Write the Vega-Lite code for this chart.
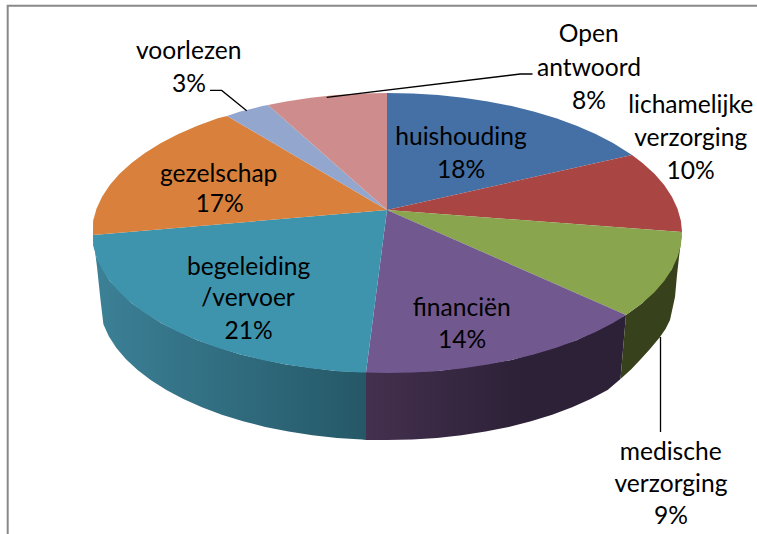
{"$schema":"https://vega.github.io/schema/vega-lite/v6.json","width":757,"height":534,"padding":0,"autosize":"none","background":"white","view":{"stroke":null},
"datasets":{
"tops":[
{"s":"huishouding","i":0,"x":387,"y":210},{"s":"huishouding","i":1,"x":387,"y":93},{"s":"huishouding","i":2,"x":412.7,"y":93.5},{"s":"huishouding","i":3,"x":438.2,"y":95.1},{"s":"huishouding","i":4,"x":463.3,"y":97.8},{"s":"huishouding","i":5,"x":487.9,"y":101.4},{"s":"huishouding","i":6,"x":511.7,"y":106.1},{"s":"huishouding","i":7,"x":534.5,"y":111.8},{"s":"huishouding","i":8,"x":556.2,"y":118.3},{"s":"huishouding","i":9,"x":576.6,"y":125.8},{"s":"huishouding","i":10,"x":595.6,"y":134},{"s":"huishouding","i":11,"x":613,"y":143},{"s":"huishouding","i":12,"x":632,"y":155},
{"s":"lichamelijke verzorging","i":0,"x":387,"y":210},{"s":"lichamelijke verzorging","i":1,"x":632,"y":155},{"s":"lichamelijke verzorging","i":2,"x":642.5,"y":163},{"s":"lichamelijke verzorging","i":3,"x":654.4,"y":173.8},{"s":"lichamelijke verzorging","i":4,"x":664.2,"y":185.1},{"s":"lichamelijke verzorging","i":5,"x":671.9,"y":196.8},{"s":"lichamelijke verzorging","i":6,"x":677.5,"y":208.7},{"s":"lichamelijke verzorging","i":7,"x":680.9,"y":220.8},{"s":"lichamelijke verzorging","i":8,"x":682,"y":232},
{"s":"medische verzorging","i":0,"x":387,"y":210},{"s":"medische verzorging","i":1,"x":682,"y":232},{"s":"medische verzorging","i":2,"x":680.9,"y":245.2},{"s":"medische verzorging","i":3,"x":677.5,"y":257.3},{"s":"medische verzorging","i":4,"x":671.9,"y":269.2},{"s":"medische verzorging","i":5,"x":664.2,"y":280.9},{"s":"medische verzorging","i":6,"x":654.4,"y":292.2},{"s":"medische verzorging","i":7,"x":642.5,"y":303},{"s":"medische verzorging","i":8,"x":626,"y":315},
{"s":"financiën","i":0,"x":387,"y":210},{"s":"financiën","i":1,"x":626,"y":315},{"s":"financiën","i":2,"x":613,"y":323},{"s":"financiën","i":3,"x":595.6,"y":332},{"s":"financiën","i":4,"x":576.6,"y":340.2},{"s":"financiën","i":5,"x":556.2,"y":347.7},{"s":"financiën","i":6,"x":534.5,"y":354.2},{"s":"financiën","i":7,"x":511.7,"y":359.9},{"s":"financiën","i":8,"x":487.9,"y":364.6},{"s":"financiën","i":9,"x":463.3,"y":368.2},{"s":"financiën","i":10,"x":438.2,"y":370.9},{"s":"financiën","i":11,"x":412.7,"y":372.5},{"s":"financiën","i":12,"x":387,"y":373},{"s":"financiën","i":13,"x":366,"y":372.6},
{"s":"begeleiding/vervoer","i":0,"x":387,"y":210},{"s":"begeleiding/vervoer","i":1,"x":366,"y":372.6},{"s":"begeleiding/vervoer","i":2,"x":361.3,"y":372.5},{"s":"begeleiding/vervoer","i":3,"x":335.8,"y":370.9},{"s":"begeleiding/vervoer","i":4,"x":310.7,"y":368.2},{"s":"begeleiding/vervoer","i":5,"x":286.1,"y":364.6},{"s":"begeleiding/vervoer","i":6,"x":262.3,"y":359.9},{"s":"begeleiding/vervoer","i":7,"x":239.5,"y":354.2},{"s":"begeleiding/vervoer","i":8,"x":217.8,"y":347.7},{"s":"begeleiding/vervoer","i":9,"x":197.4,"y":340.2},{"s":"begeleiding/vervoer","i":10,"x":178.4,"y":332},{"s":"begeleiding/vervoer","i":11,"x":161,"y":323},{"s":"begeleiding/vervoer","i":12,"x":145.3,"y":313.3},{"s":"begeleiding/vervoer","i":13,"x":131.5,"y":303},{"s":"begeleiding/vervoer","i":14,"x":119.6,"y":292.2},{"s":"begeleiding/vervoer","i":15,"x":109.8,"y":280.9},{"s":"begeleiding/vervoer","i":16,"x":102.1,"y":269.2},{"s":"begeleiding/vervoer","i":17,"x":96.5,"y":257.3},{"s":"begeleiding/vervoer","i":18,"x":93.1,"y":245.2},{"s":"begeleiding/vervoer","i":19,"x":93,"y":235},
{"s":"gezelschap","i":0,"x":387,"y":210},{"s":"gezelschap","i":1,"x":93,"y":235},{"s":"gezelschap","i":2,"x":93.1,"y":220.8},{"s":"gezelschap","i":3,"x":96.5,"y":208.7},{"s":"gezelschap","i":4,"x":102.1,"y":196.8},{"s":"gezelschap","i":5,"x":109.8,"y":185.1},{"s":"gezelschap","i":6,"x":119.6,"y":173.8},{"s":"gezelschap","i":7,"x":131.5,"y":163},{"s":"gezelschap","i":8,"x":145.3,"y":152.7},{"s":"gezelschap","i":9,"x":161,"y":143},{"s":"gezelschap","i":10,"x":178.4,"y":134},{"s":"gezelschap","i":11,"x":197.4,"y":125.8},{"s":"gezelschap","i":12,"x":217.8,"y":118.3},{"s":"gezelschap","i":13,"x":227,"y":116},
{"s":"voorlezen","i":0,"x":387,"y":210},{"s":"voorlezen","i":1,"x":227,"y":116},{"s":"voorlezen","i":2,"x":239.5,"y":111.8},{"s":"voorlezen","i":3,"x":262.3,"y":106.1},{"s":"voorlezen","i":4,"x":268,"y":105},
{"s":"Open antwoord","i":0,"x":387,"y":210},{"s":"Open antwoord","i":1,"x":268,"y":105},{"s":"Open antwoord","i":2,"x":286.1,"y":101.4},{"s":"Open antwoord","i":3,"x":310.7,"y":97.8},{"s":"Open antwoord","i":4,"x":335.8,"y":95.1},{"s":"Open antwoord","i":5,"x":361.3,"y":93.5},{"s":"Open antwoord","i":6,"x":387,"y":93}
],
"sideTeal":[
{"i":0,"x":366,"y":372},{"i":1,"x":335.8,"y":370.9},{"i":2,"x":286.1,"y":364.6},{"i":3,"x":239.5,"y":354.2},{"i":4,"x":197.4,"y":340.2},{"i":5,"x":161,"y":323},{"i":6,"x":131.5,"y":303},{"i":7,"x":109.8,"y":280.9},{"i":8,"x":96.5,"y":257.3},{"i":9,"x":93,"y":235},{"i":10,"x":97,"y":267},{"i":11,"x":100.5,"y":300},{"i":12,"x":103.4,"y":324.3},{"i":13,"x":108.8,"y":336.2},{"i":14,"x":116.4,"y":347.9},{"i":15,"x":126,"y":359.2},{"i":16,"x":137.6,"y":370},{"i":17,"x":151,"y":380.3},{"i":18,"x":166.4,"y":390},{"i":19,"x":183.4,"y":399},{"i":20,"x":201.9,"y":407.2},{"i":21,"x":221.8,"y":414.7},{"i":22,"x":243,"y":421.2},{"i":23,"x":265.3,"y":426.9},{"i":24,"x":288.5,"y":431.6},{"i":25,"x":312.5,"y":435.2},{"i":26,"x":337,"y":437.9},{"i":27,"x":361.9,"y":439.5},{"i":28,"x":366,"y":440}
],
"sidePurple":[
{"i":0,"x":626,"y":315},{"i":1,"x":576.6,"y":340.2},{"i":2,"x":511.7,"y":359.9},{"i":3,"x":438.2,"y":370.9},{"i":4,"x":366,"y":372},{"i":5,"x":366,"y":440},{"i":6,"x":387,"y":440},{"i":7,"x":412.1,"y":439.5},{"i":8,"x":437,"y":437.9},{"i":9,"x":461.5,"y":435.2},{"i":10,"x":485.5,"y":431.6},{"i":11,"x":508.7,"y":426.9},{"i":12,"x":531,"y":421.2},{"i":13,"x":552.2,"y":414.7},{"i":14,"x":572.1,"y":407.2},{"i":15,"x":590.6,"y":399},{"i":16,"x":607.6,"y":390},{"i":17,"x":620.5,"y":379}
],
"sideGreen":[
{"i":0,"x":682,"y":233},{"i":1,"x":671.9,"y":269.2},{"i":2,"x":642.5,"y":303},{"i":3,"x":626,"y":315},{"i":4,"x":620.5,"y":379},{"i":5,"x":631,"y":369.5},{"i":6,"x":640,"y":360},{"i":7,"x":650,"y":349},{"i":8,"x":660,"y":337},{"i":9,"x":665.5,"y":329},{"i":10,"x":670,"y":320},{"i":11,"x":675,"y":297},{"i":12,"x":677,"y":275},{"i":13,"x":679,"y":257}
],
"frame":[{"i":0,"x":757,"y":5.8},{"i":1,"x":7.7,"y":5.8},{"i":2,"x":7.7,"y":534}],
"leaders":[
{"l":"voorlezen","i":0,"x":210,"y":90.4},{"l":"voorlezen","i":1,"x":221.7,"y":90.4},{"l":"voorlezen","i":2,"x":246.7,"y":110.7},
{"l":"Open antwoord","i":0,"x":326.7,"y":97.4},{"l":"Open antwoord","i":1,"x":520.3,"y":74},{"l":"Open antwoord","i":2,"x":532.5,"y":74},
{"l":"medische verzorging","i":0,"x":660.5,"y":337},{"l":"medische verzorging","i":1,"x":660.5,"y":432}
],
"labels":[
{"t":"voorlezen","x":188.7,"y":59},{"t":"3%","x":189,"y":91.7},
{"t":"Open","x":588.7,"y":42},{"t":"antwoord","x":589,"y":75.7},{"t":"8%","x":589,"y":109},
{"t":"lichamelijke","x":690.7,"y":113},{"t":"verzorging","x":690.7,"y":145.7},{"t":"10%","x":690.7,"y":179},
{"t":"huishouding","x":461,"y":145},{"t":"18%","x":461,"y":177.7},
{"t":"gezelschap","x":218.7,"y":181.7},{"t":"17%","x":219.7,"y":211.7},
{"t":"begeleiding","x":248.7,"y":275},{"t":"/vervoer","x":248,"y":306},{"t":"21%","x":248.7,"y":338.7},
{"t":"financiën","x":461.7,"y":316},{"t":"14%","x":462,"y":347.7},
{"t":"medische","x":670.7,"y":459.7},{"t":"verzorging","x":671,"y":492},{"t":"9%","x":671,"y":524}
]},
"encoding":{
"x":{"field":"x","type":"quantitative","scale":{"domain":[0,757],"nice":false,"zero":false},"axis":null},
"y":{"field":"y","type":"quantitative","scale":{"domain":[534,0],"nice":false,"zero":false},"axis":null}
},
"layer":[
{"data":{"name":"frame"},"mark":{"type":"line","stroke":"#898989","strokeWidth":2},"encoding":{"order":{"field":"i"}}},
{"data":{"name":"sideTeal"},"mark":{"type":"line","filled":true,"strokeWidth":0,"fill":{"gradient":"linear","x1":0,"y1":0,"x2":1,"y2":0,"stops":[{"offset":0,"color":"#3C8197"},{"offset":1,"color":"#255867"}]}},"encoding":{"order":{"field":"i"}}},
{"data":{"name":"sidePurple"},"mark":{"type":"line","filled":true,"strokeWidth":0,"fill":{"gradient":"linear","x1":0,"y1":0,"x2":1,"y2":0,"stops":[{"offset":0,"color":"#44304F"},{"offset":0.6,"color":"#2C2137"},{"offset":1,"color":"#2C2137"}]}},"encoding":{"order":{"field":"i"}}},
{"data":{"name":"sideGreen"},"mark":{"type":"line","filled":true,"strokeWidth":0,"fill":"#37421C"},"encoding":{"order":{"field":"i"}}},
{"data":{"name":"tops"},"mark":{"type":"line","filled":true,"strokeWidth":0},"encoding":{"order":{"field":"i"},"color":{"field":"s","type":"nominal","legend":null,"scale":{"domain":["huishouding","lichamelijke verzorging","medische verzorging","financiën","begeleiding/vervoer","gezelschap","voorlezen","Open antwoord"],"range":["#4570A5","#A94543","#89A54E","#71588F","#3F94AD","#D8803C","#93A6CD","#CE8D8C"]}}}},
{"data":{"name":"leaders"},"mark":{"type":"line","stroke":"#000000","strokeWidth":1.3},"encoding":{"order":{"field":"i"},"detail":{"field":"l"}}},
{"data":{"name":"labels"},"mark":{"type":"text","font":"Lato","fontSize":24.6,"align":"center","baseline":"alphabetic","color":"#000000"},"encoding":{"text":{"field":"t"}}}
]}
